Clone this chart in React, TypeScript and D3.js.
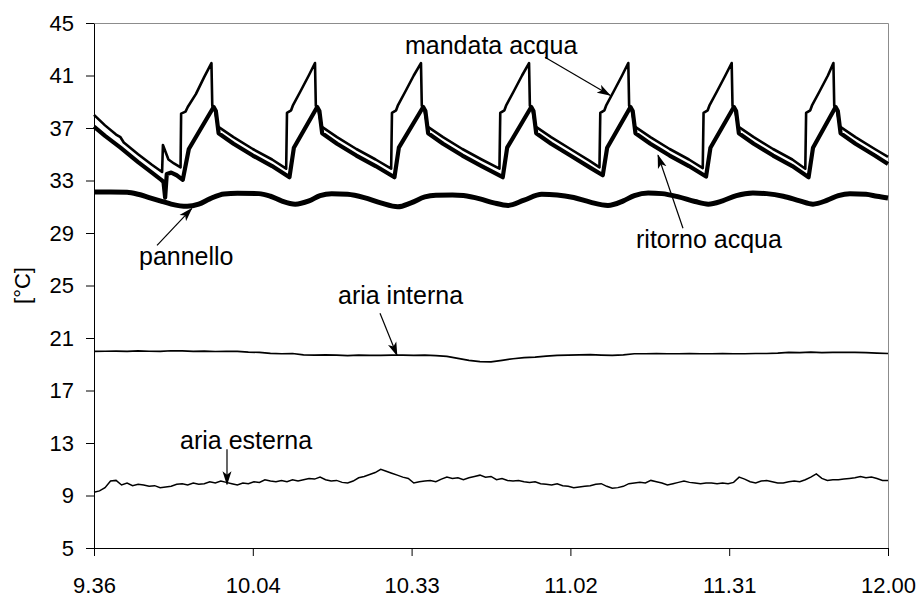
import { useEffect, useRef } from 'react'
import * as d3 from 'd3'

// x values are minutes after 9.36, y values are °C
const tickMinutes = [0, 28.8, 57.6, 86.4, 115.2, 144]
const tickLabels = ['9.36', '10.04', '10.33', '11.02', '11.31', '12.00']
const yTicks = [5, 9, 13, 17, 21, 25, 29, 33, 37, 41, 45]

const mandata = [
    [0, 38.0], [2, 37.2], [4, 36.5], [4.8, 36.3], [5.4, 35.9], [8, 35.0], [10.5, 34.2], [12.35, 33.65],
    [12.5, 35.7], [13.5, 34.6], [14.5, 34.3], [15.7, 34.0], [15.8, 38.1], [16.6, 38.25], [17, 38.6],
    [18.5, 39.6], [20, 40.9], [21.3, 41.95],
    [21.45, 38.7], [21.9, 38.4], [22.5, 37.1], [25.3, 36.3], [28.8, 35.4], [32.3, 34.6], [34.85, 33.9],
    [35.0, 38.15], [35.75, 38.35], [36.05, 38.7], [37.45, 39.8], [38.95, 41.0], [40.08, 41.95],
    [40.23, 38.7], [40.68, 38.4], [41.28, 37.1], [44.08, 36.3], [47.58, 35.4], [51.08, 34.6], [53.89, 33.9],
    [54.04, 38.15], [54.79, 38.35], [55.09, 38.7], [56.49, 39.8], [57.99, 41.0], [59.3, 41.95],
    [59.45, 38.7], [59.9, 38.4], [60.5, 37.1], [63.3, 36.3], [66.8, 35.4], [70.3, 34.6], [73.53, 33.9],
    [73.68, 38.15], [74.43, 38.35], [74.73, 38.7], [76.13, 39.8], [77.63, 41.0], [78.9, 41.95],
    [79.05, 38.7], [79.5, 38.4], [80.1, 37.1], [82.9, 36.3], [86.4, 35.4], [89.9, 34.5], [91.67, 34.0],
    [91.82, 38.15], [92.57, 38.35], [92.87, 38.7], [94.27, 39.8], [95.77, 41.0], [96.9, 41.95],
    [97.05, 38.7], [97.5, 38.4], [98.1, 37.1], [100.9, 36.3], [104.4, 35.4], [107.9, 34.6], [110.4, 33.95],
    [110.55, 38.15], [111.3, 38.35], [111.6, 38.7], [113, 39.8], [114.5, 41.0], [115.65, 41.95],
    [115.8, 38.7], [116.25, 38.4], [116.85, 37.1], [119.65, 36.3], [123.15, 35.4], [126.65, 34.6], [129.0, 33.9],
    [129.15, 38.15], [129.9, 38.35], [130.2, 38.7], [131.6, 39.8], [133.1, 41.0], [134.1, 41.95],
    [134.25, 38.7], [134.7, 38.4], [135.3, 37.1], [138.1, 36.3], [141.6, 35.4], [144, 34.8]
]

const ritorno = [
    [0, 37.1], [2, 36.4], [4.8, 35.5], [8, 34.4], [10.5, 33.6], [12.2, 33.05], [12.6, 32.9], [12.9, 31.7],
    [13.2, 33.5], [14, 33.6], [15, 33.4], [16.1, 33.05], [17.2, 35.4], [21.7, 38.6],
    [22.1, 38.3], [22.6, 36.6], [25.3, 35.8], [28.8, 34.9], [32.3, 34.1], [35.45, 33.25], [36.25, 35.5], [40.48, 38.6],
    [40.88, 38.3], [41.38, 36.6], [44.08, 35.8], [47.58, 34.9], [51.08, 34.1], [54.49, 33.25], [55.29, 35.5], [59.7, 38.6],
    [60.1, 38.3], [60.6, 36.6], [63.3, 35.8], [66.8, 34.9], [70.3, 34.1], [74.13, 33.25], [74.93, 35.5], [79.3, 38.6],
    [79.7, 38.3], [80.2, 36.6], [82.9, 35.8], [86.4, 34.9], [89.9, 34.0], [92.27, 33.4], [93.07, 35.5], [97.3, 38.6],
    [97.7, 38.3], [98.2, 36.6], [100.9, 35.8], [104.4, 34.9], [107.9, 34.1], [111.0, 33.3], [111.8, 35.5], [116.05, 38.6],
    [116.45, 38.3], [116.95, 36.6], [119.65, 35.8], [123.15, 34.9], [126.65, 34.1], [129.6, 33.25], [130.4, 35.5], [134.5, 38.6],
    [134.9, 38.3], [135.4, 36.6], [138.1, 35.8], [141.6, 34.9], [144, 34.25]
]

const pannello = [
    [0, 32.12], [3, 32.12], [6, 32.1], [8, 31.95], [10, 31.7], [12, 31.45], [14, 31.2], [16.9, 31.03],
    [19, 31.2], [21, 31.6], [23.6, 31.98], [26, 32.02], [29.9, 32.0], [32, 31.8], [34, 31.45], [36.5, 31.2],
    [39, 31.45], [41, 31.85], [43.1, 32.0], [46, 31.95], [49, 31.7], [52, 31.3], [55.1, 31.0], [57.5, 31.3],
    [60, 31.75], [62, 31.88], [65, 31.9], [67, 31.85], [70, 31.6], [72.5, 31.3], [75.1, 31.1], [78, 31.5],
    [81.2, 31.95], [84, 31.9], [87, 31.7], [90, 31.35], [93.2, 31.1], [96, 31.45], [98, 31.85], [100.5, 32.05],
    [103, 32.0], [106, 31.75], [109, 31.4], [111.4, 31.2], [114, 31.45], [116.5, 31.85], [119.5, 32.05],
    [122, 32.0], [125, 31.8], [128, 31.45], [130.4, 31.2], [133, 31.5], [135, 31.85], [137.1, 32.0],
    [140, 31.95], [142, 31.8], [144, 31.67]
]

// one reading every 2 minutes
const ariaInterna = [
    19.98, 19.99, 20.0, 19.98, 20.02, 19.99, 19.98, 20.03, 20.02, 19.98,
    20.0, 19.97, 19.99, 19.98, 19.93, 19.9, 19.83, 19.8, 19.82, 19.72,
    19.7, 19.72, 19.7, 19.66, 19.7, 19.68, 19.68, 19.7, 19.7, 19.68,
    19.7, 19.66, 19.6, 19.45, 19.3, 19.2, 19.18, 19.3, 19.42, 19.5,
    19.55, 19.62, 19.68, 19.7, 19.72, 19.73, 19.7, 19.68, 19.72, 19.8,
    19.8, 19.82, 19.8, 19.8, 19.82, 19.8, 19.8, 19.81, 19.8, 19.8,
    19.82, 19.82, 19.85, 19.9, 19.88, 19.92, 19.88, 19.9, 19.9, 19.9,
    19.88, 19.85, 19.82
]

// one reading every minute
const ariaEsterna = [
    9.25, 9.35, 9.6, 10.1, 10.15, 9.8, 9.95, 9.75, 9.85, 9.8,
    9.7, 9.75, 9.6, 9.65, 9.7, 9.85, 9.9, 9.8, 9.95, 9.85,
    9.9, 10.05, 9.95, 10.1, 10.0, 9.9, 9.8, 9.95, 9.9, 10.05,
    10.0, 10.2, 10.1, 10.05, 10.15, 10.05, 10.2, 10.1, 10.2, 10.3,
    10.25, 10.4, 10.2, 10.1, 10.15, 10.0, 9.95, 10.1, 10.35, 10.45,
    10.6, 10.75, 11.0, 10.85, 10.7, 10.55, 10.4, 10.3, 9.95, 10.05,
    10.1, 10.15, 10.05, 10.25, 10.4, 10.3, 10.35, 10.2, 10.35, 10.45,
    10.55, 10.4, 10.45, 10.2, 10.3, 10.15, 10.1, 10.15, 10.05, 10.0,
    10.05, 9.9, 9.85, 9.8, 9.9, 9.75, 9.7, 9.6, 9.65, 9.7,
    9.75, 9.85, 9.9, 9.7, 9.55, 9.6, 9.7, 9.9, 9.95, 10.0,
    9.95, 10.15, 10.05, 9.95, 9.8, 9.9, 10.0, 10.1, 10.0, 9.95,
    9.9, 9.95, 9.95, 9.9, 9.95, 9.9, 10.0, 10.4, 10.25, 10.05,
    9.95, 10.1, 10.15, 10.05, 9.95, 9.95, 10.05, 10.1, 10.05, 10.2,
    10.4, 10.65, 10.3, 10.15, 10.2, 10.2, 10.25, 10.3, 10.35, 10.45,
    10.35, 10.4, 10.3, 10.15, 10.15
]

// labels: text start, arrow start, arrow tip (minutes, °C)
const annotations = [
    { text: 'mandata acqua', at: [56.4, 42.61], from: [81.79, 42.39], to: [93.58, 39.49] },
    { text: 'ritorno acqua', at: [98.3, 27.83], from: [106.82, 29.36], to: [102.29, 34.92] },
    { text: 'pannello', at: [8.16, 26.54], from: [11.43, 28.06], to: [17.72, 30.86] },
    { text: 'aria interna', at: [44.25, 23.57], from: [51.87, 22.88], to: [54.95, 19.68] },
    { text: 'aria esterna', at: [15.6, 12.52], from: [24.12, 12.52], to: [24.12, 9.85] }
]

const font = "'Liberation Sans', Arial, sans-serif"

function App() {
    const ref = useRef(null)

    useEffect(() => {
        const margin = { top: 23, right: 34, bottom: 50, left: 94 }
        const width = 922 - margin.left - margin.right
        const height = 598 - margin.top - margin.bottom

        const svg = d3.select(ref.current)
        svg.selectAll('*').remove()

        const xScale = d3.scaleLinear().domain([0, 144]).range([0, width])
        const yScale = d3.scaleLinear().domain([5, 45]).range([height, 0])

        const path = d3
            .line()
            .x(d => xScale(d[0]))
            .y(d => yScale(d[1]))

        svg
            .append('defs')
            .append('marker')
            .attr('id', 'arrow')
            .attr('viewBox', '0 -5 14 10')
            .attr('refX', 13)
            .attr('refY', 0)
            .attr('markerWidth', 14)
            .attr('markerHeight', 10)
            .attr('markerUnits', 'userSpaceOnUse')
            .attr('orient', 'auto')
            .append('path')
            .attr('d', 'M0,-4.5L14,0L0,4.5L3.5,0Z')
            .attr('fill', '#000')

        const graph = svg
            .append('g')
            .attr('transform', `translate(${margin.left}, ${margin.top})`)

        // frame: top and right in grey
        graph
            .append('path')
            .attr('d', `M0.5,0.5H${width + 0.5}V${height}`)
            .attr('fill', 'none')
            .attr('stroke', '#8c8c8c')
            .attr('stroke-width', 1)

        const xAxis = graph
            .append('g')
            .attr('transform', `translate(0, ${height})`)
            .call(
                d3.axisBottom(xScale)
                    .tickValues(tickMinutes)
                    .tickFormat((d, i) => tickLabels[i])
                    .tickSize(8)
                    .tickSizeOuter(0)
                    .tickPadding(21)
            )

        const yAxis = graph
            .append('g')
            .call(
                d3.axisLeft(yScale)
                    .tickValues(yTicks)
                    .tickSize(8)
                    .tickSizeOuter(0)
                    .tickPadding(12)
            )

        for (const axis of [xAxis, yAxis]) {
            axis.attr('font-family', font).attr('font-size', 22)
            axis.selectAll('text').attr('fill', '#000')
            axis.selectAll('line, path').attr('stroke', '#000')
        }

        svg
            .append('text')
            .attr('transform', `translate(22, ${margin.top + height / 2}) rotate(-90)`)
            .attr('dy', '0.35em')
            .style('text-anchor', 'middle')
            .attr('font-family', font)
            .attr('font-size', 22)
            .text('[°C]')

        graph
            .append('path')
            .datum(ariaEsterna.map((v, i) => [i, v]))
            .attr('d', path)
            .style('fill', 'none')
            .style('stroke', '#000')
            .style('stroke-width', 1.5)

        graph
            .append('path')
            .datum(ariaInterna.map((v, i) => [i * 2, v]))
            .attr('d', path)
            .style('fill', 'none')
            .style('stroke', '#000')
            .style('stroke-width', 1.7)

        graph
            .append('path')
            .datum(pannello)
            .attr('d', path.curve(d3.curveMonotoneX))
            .style('fill', 'none')
            .style('stroke', '#000')
            .style('stroke-width', 5)

        path.curve(d3.curveLinear)

        graph
            .append('path')
            .datum(ritorno)
            .attr('d', path)
            .style('fill', 'none')
            .style('stroke', '#000')
            .style('stroke-width', 4.2)
            .style('stroke-linejoin', 'round')

        graph
            .append('path')
            .datum(mandata)
            .attr('d', path)
            .style('fill', 'none')
            .style('stroke', '#000')
            .style('stroke-width', 2.6)
            .style('stroke-linejoin', 'round')

        for (const a of annotations) {
            graph
                .append('line')
                .attr('x1', xScale(a.from[0]))
                .attr('y1', yScale(a.from[1]))
                .attr('x2', xScale(a.to[0]))
                .attr('y2', yScale(a.to[1]))
                .attr('stroke', '#000')
                .attr('stroke-width', 1.2)
                .attr('marker-end', 'url(#arrow)')

            graph
                .append('text')
                .attr('x', xScale(a.at[0]))
                .attr('y', yScale(a.at[1]))
                .attr('font-family', font)
                .attr('font-size', 25)
                .text(a.text)
        }
    }, [])

    return (
        <svg
            ref={ref}
            width={922}
            height={598}
            style={{ position: 'absolute', left: 0, top: 0, background: '#fff' }}
        />
    )
}

export default App
